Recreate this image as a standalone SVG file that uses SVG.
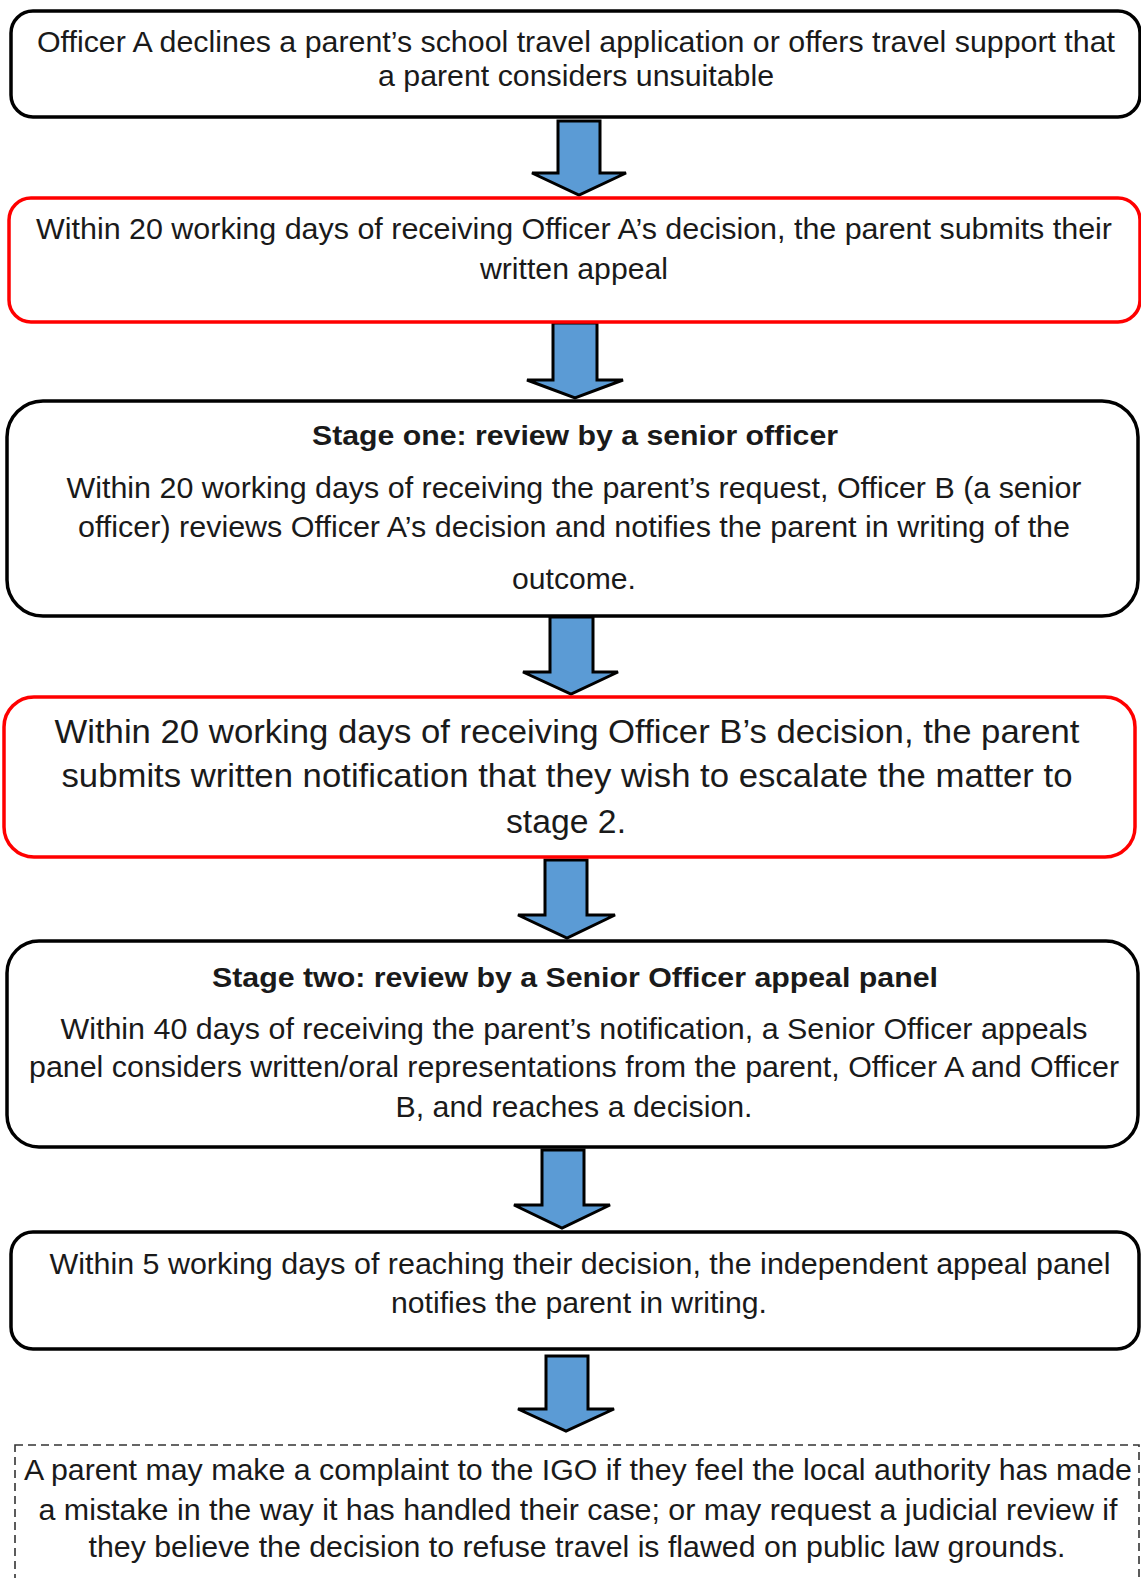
<svg xmlns="http://www.w3.org/2000/svg" width="1141" height="1578" viewBox="0 0 1141 1578">
<style>
.box{fill:#fff;stroke:#000;stroke-width:3.5}
.red{fill:#fff;stroke:#ff0000;stroke-width:3.5}
.dash{fill:#fff;stroke:#333;stroke-width:1.6;stroke-dasharray:8 5}
.arrow{fill:#5b9bd5;stroke:#000;stroke-width:3;stroke-linejoin:miter}
text{font-family:"Liberation Sans",Arial,sans-serif;fill:#1a1a1a;text-anchor:middle}
.t29{font-size:29px}
.t33{font-size:33px}
.b{font-weight:bold;font-size:27px}
</style>
<rect width="1141" height="1578" fill="#fff"/>
<g id="connectors">
<path class="arrow" d="M558,121 L600,121 L600,173 L626,173 L579,195 L532,173 L558,173 Z"/>
<path class="arrow" d="M553,323 L597,323 L597,380 L623,380 L575,398 L527,380 L553,380 Z"/>
<path class="arrow" d="M550,617 L593,617 L593,672 L618,672 L571,694 L523,672 L550,672 Z"/>
<path class="arrow" d="M545,860 L587,860 L587,915 L615,915 L567,938 L518,915 L545,915 Z"/>
<path class="arrow" d="M542,1150 L584,1150 L584,1205 L610,1205 L562,1228 L514,1205 L542,1205 Z"/>
<path class="arrow" d="M546,1356 L588,1356 L588,1409 L614,1409 L566,1431 L518,1409 L546,1409 Z"/>
</g>
<g id="node1">
<rect class="box" x="11" y="11" width="1129" height="106" rx="22"/>
<text class="t29" x="576" y="52" textLength="1078" lengthAdjust="spacingAndGlyphs">Officer A declines a parent’s school travel application or offers travel support that</text>
<text class="t29" x="576" y="86" textLength="396" lengthAdjust="spacingAndGlyphs">a parent considers unsuitable</text>
</g>
<g id="node2">
<rect class="red" x="9" y="198" width="1131" height="124" rx="22"/>
<text class="t29" x="574" y="239" textLength="1076" lengthAdjust="spacingAndGlyphs">Within 20 working days of receiving Officer A’s decision, the parent submits their</text>
<text class="t29" x="574" y="279" textLength="188" lengthAdjust="spacingAndGlyphs">written appeal</text>
</g>
<g id="node3">
<rect class="box" x="7" y="401" width="1131" height="215" rx="36"/>
<text class="b" x="575" y="445" textLength="526" lengthAdjust="spacingAndGlyphs">Stage one: review by a senior officer</text>
<text class="t29" x="574" y="498" textLength="1015" lengthAdjust="spacingAndGlyphs">Within 20 working days of receiving the parent’s request, Officer B (a senior</text>
<text class="t29" x="574" y="537" textLength="992" lengthAdjust="spacingAndGlyphs">officer) reviews Officer A’s decision and notifies the parent in writing of the</text>
<text class="t29" x="574" y="589" textLength="124" lengthAdjust="spacingAndGlyphs">outcome.</text>
</g>
<g id="node4">
<rect class="red" x="4" y="697" width="1131" height="160" rx="30"/>
<text class="t33" x="567" y="743" textLength="1025" lengthAdjust="spacingAndGlyphs">Within 20 working days of receiving Officer B’s decision, the parent</text>
<text class="t33" x="567" y="787" textLength="1011" lengthAdjust="spacingAndGlyphs">submits written notification that they wish to escalate the matter to</text>
<text class="t33" x="566" y="833" textLength="120" lengthAdjust="spacingAndGlyphs">stage 2.</text>
</g>
<g id="node5">
<rect class="box" x="7" y="941" width="1131" height="206" rx="32"/>
<text class="b" x="575" y="987" textLength="726" lengthAdjust="spacingAndGlyphs">Stage two: review by a Senior Officer appeal panel</text>
<text class="t29" x="574" y="1039" textLength="1027" lengthAdjust="spacingAndGlyphs">Within 40 days of receiving the parent’s notification, a Senior Officer appeals</text>
<text class="t29" x="574" y="1077" textLength="1090" lengthAdjust="spacingAndGlyphs">panel considers written/oral representations from the parent, Officer A and Officer</text>
<text class="t29" x="574" y="1117" textLength="357" lengthAdjust="spacingAndGlyphs">B, and reaches a decision.</text>
</g>
<g id="node6">
<rect class="box" x="11" y="1232" width="1128" height="117" rx="22"/>
<text class="t29" x="580" y="1274" textLength="1061" lengthAdjust="spacingAndGlyphs">Within 5 working days of reaching their decision, the independent appeal panel</text>
<text class="t29" x="579" y="1313" textLength="376" lengthAdjust="spacingAndGlyphs">notifies the parent in writing.</text>
</g>
<g id="node7">
<rect class="dash" x="15" y="1445" width="1124" height="160"/>
<text class="t29" x="578" y="1480" textLength="1108" lengthAdjust="spacingAndGlyphs">A parent may make a complaint to the IGO if they feel the local authority has made</text>
<text class="t29" x="578" y="1520" textLength="1079" lengthAdjust="spacingAndGlyphs">a mistake in the way it has handled their case; or may request a judicial review if</text>
<text class="t29" x="577" y="1557" textLength="977" lengthAdjust="spacingAndGlyphs">they believe the decision to refuse travel is flawed on public law grounds.</text>
</g>
</svg>
